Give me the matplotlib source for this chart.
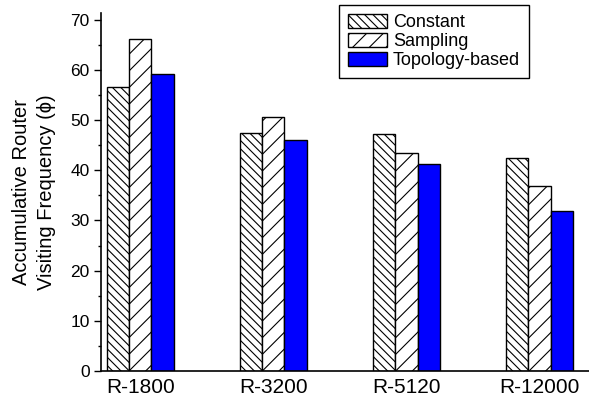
import numpy as np
import matplotlib.pyplot as plt
from matplotlib.ticker import MultipleLocator

plt.rcParams['font.family'] = ['Liberation Sans', 'DejaVu Sans']
plt.rcParams['hatch.linewidth'] = 0.8

# data
groups = ['R-1800', 'R-3200', 'R-5120', 'R-12000']
constant = [56.7, 47.4, 47.2, 42.4]
sampling = [66.1, 50.6, 43.4, 36.8]
topology = [59.3, 46.1, 41.3, 31.9]

fig = plt.figure(figsize=(5.89, 4.04), dpi=100)
ax = fig.add_axes([0.171, 0.082, 0.829, 0.886])

x = np.arange(len(groups))
w = 1 / 6
ax.bar(x - w, constant, w, color='white', edgecolor='black', hatch='\\\\\\\\',
       linewidth=1, label='Constant')
ax.bar(x, sampling, w, color='white', edgecolor='black', hatch='//',
       linewidth=1, label='Sampling')
ax.bar(x + w, topology, w, color='#0000ff', edgecolor='black',
       linewidth=1, label='Topology-based')

ax.set_xlim(-0.297, 3.372)
ax.set_ylim(0, 71.4)
ax.set_xticks(x)
ax.set_xticklabels(groups, fontsize=15)
ax.tick_params(axis='x', length=0, pad=5)
ax.yaxis.set_major_locator(MultipleLocator(10))
ax.yaxis.set_minor_locator(MultipleLocator(5))
ax.tick_params(axis='y', which='major', length=5, width=1, labelsize=12.5,
               direction='out', pad=3)
ax.tick_params(axis='y', which='minor', length=2.5, width=1, direction='out')

for s in ['top', 'right']:
    ax.spines[s].set_visible(False)
for s in ['left', 'bottom']:
    ax.spines[s].set_linewidth(1.2)

ax.set_ylabel('Accumulative Router\nVisiting Frequency (\u03d5)', fontsize=14.5,
              labelpad=10, linespacing=1.4)

leg = ax.legend(loc='upper right', bbox_to_anchor=(0.877, 1.022), fontsize=13,
                fancybox=False, edgecolor='black', framealpha=1,
                handlelength=2.2, handleheight=0.8, labelspacing=0.1,
                borderpad=0.5, handletextpad=0.3, borderaxespad=0)
leg.get_frame().set_linewidth(1)

fig.savefig('out.png', dpi=100)
